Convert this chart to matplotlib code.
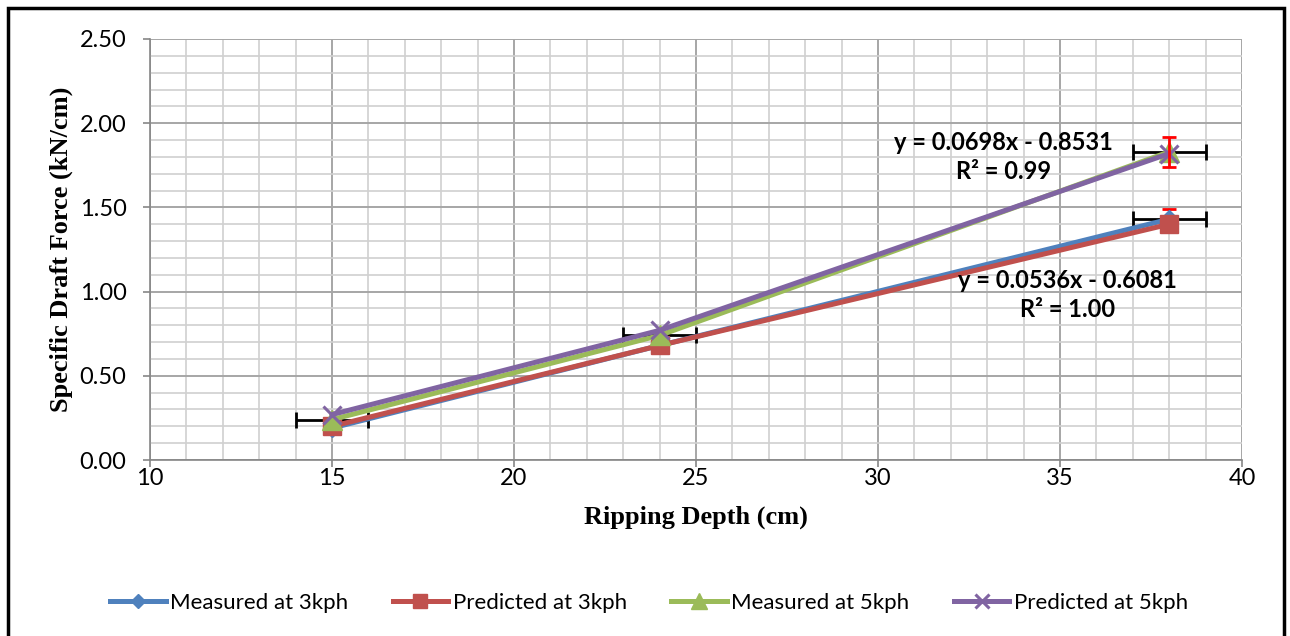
import numpy as np
import matplotlib.pyplot as plt
from matplotlib.patches import Rectangle
from matplotlib.ticker import MultipleLocator

plt.rcParams['font.family'] = ['Lato', 'DejaVu Sans']

# ripping depth (cm) and specific draft force (kN/cm)
depth = [15, 24, 38]
measured_3kph = [0.19, 0.68, 1.43]
predicted_3kph = [0.20, 0.68, 1.40]
measured_5kph = [0.24, 0.74, 1.83]
predicted_5kph = [0.27, 0.77, 1.82]

# error bars
depth_err = [1, 1, 1]
force_err_3kph = [0.0, 0.0, 0.06]
force_err_5kph = [0.0, 0.0, 0.09]

eq_5kph = "y = 0.0698x - 0.8531\nR² = 0.99"
eq_3kph = "y = 0.0536x - 0.6081\nR² = 1.00"

fig = plt.figure(figsize=(12.9, 6.36), dpi=100)
ax = fig.add_axes([0.1163, 0.2767, 0.8465, 0.662])

lw = 3.6
ax.plot(depth, measured_3kph, color='#4F81BD', lw=lw, marker='D', ms=9,
        label='Measured at 3kph', zorder=3)
ax.plot(depth, predicted_3kph, color='#C0504D', lw=lw, marker='s', ms=13.5,
        label='Predicted at 3kph', zorder=4)
ax.plot(depth, measured_5kph, color='#9BBB59', lw=lw, marker='^', ms=15,
        label='Measured at 5kph', zorder=5)
ax.plot(depth, predicted_5kph, color='#8064A2', lw=lw, marker='x', ms=13,
        mew=2.2, label='Predicted at 5kph', zorder=6)

# horizontal error bars on depth
ax.errorbar(depth, measured_5kph, xerr=depth_err, fmt='none', ecolor='black',
            elinewidth=2, capsize=6, capthick=2, zorder=2)
ax.errorbar(depth[2:], measured_3kph[2:], xerr=depth_err[2:], fmt='none',
            ecolor='black', elinewidth=2, capsize=6, capthick=2, zorder=2)
# vertical error bars on force
ax.errorbar(depth[2:], measured_5kph[2:], yerr=force_err_5kph[2:], fmt='none',
            ecolor='red', elinewidth=2, capsize=5, capthick=2, zorder=7)
ax.errorbar(depth[2:], measured_3kph[2:], yerr=force_err_3kph[2:], fmt='none',
            ecolor='red', elinewidth=2, capsize=5, capthick=2, zorder=2)

ax.text(33.45, 1.80, eq_5kph, ha='center', va='center', fontsize=17,
        fontweight='bold', linespacing=1.3, zorder=8)
ax.text(35.2, 0.98, eq_3kph, ha='center', va='center', fontsize=17,
        fontweight='bold', linespacing=1.3, zorder=8)

ax.set_xlim(10, 40)
ax.set_ylim(0, 2.5)
ax.xaxis.set_major_locator(MultipleLocator(5))
ax.xaxis.set_minor_locator(MultipleLocator(1))
ax.yaxis.set_major_locator(MultipleLocator(0.5))
ax.yaxis.set_minor_locator(MultipleLocator(0.1))
ax.yaxis.set_major_formatter(lambda v, p: f"{v:.2f}")
ax.grid(which='major', color='#a6a6a6', lw=1.4)
ax.grid(which='minor', color='#d0d0d0', lw=1.2)
ax.set_axisbelow(True)
ax.tick_params(which='major', direction='out', length=5, width=1.2,
               color='#868686', labelsize=17)
ax.tick_params(axis='y', pad=12)
ax.tick_params(axis='x', pad=1)
ax.tick_params(which='minor', length=0)
for s in ['top', 'right']:
    ax.spines[s].set_visible(False)
for s in ['left', 'bottom']:
    ax.spines[s].set_color('#868686')
    ax.spines[s].set_linewidth(1.2)

ax.set_xlabel('Ripping Depth (cm)', family='Liberation Serif',
              fontweight='bold', fontsize=19, labelpad=12)
ax.set_ylabel('Specific Draft Force (kN/cm)', family='Liberation Serif',
              fontweight='bold', fontsize=19, labelpad=5)

ax.legend(loc='center', bbox_to_anchor=(0.457, -0.34), ncol=4, frameon=False,
          fontsize=16, handlelength=2.5, handletextpad=0.2, columnspacing=2.0,
          markerscale=0.75)

fig.patches.append(Rectangle((0.006, -0.01), 0.989, 0.997, transform=fig.transFigure,
                             fill=False, edgecolor='black', lw=2.5))

fig.savefig('out.png', dpi=100)
